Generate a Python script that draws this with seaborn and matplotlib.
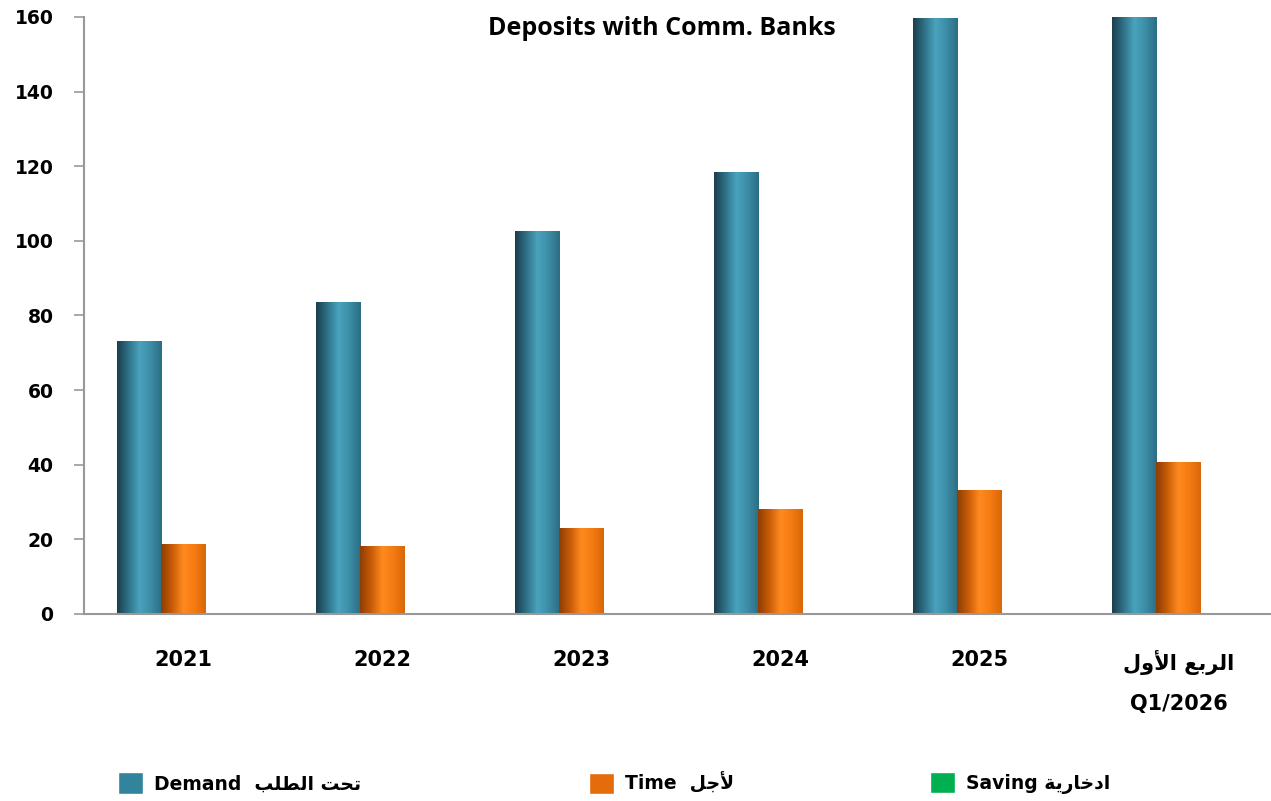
import numpy as np
import pandas as pd
import matplotlib
matplotlib.use("Agg")
import matplotlib.pyplot as plt
import seaborn as sns
from matplotlib.colors import LinearSegmentedColormap
from matplotlib.patches import Patch

# Arabic strings are written in presentation forms, visual (left-to-right) order
AR_DEMAND = "\uFE90\uFEE0\uFEC4\uFEDF\uFE8D \uFE96\uFEA4\uFE97"      # تحت الطلب
AR_TIME = "\uFEDE\uFE9F\uFEF7"                                        # لأجل
AR_SAVING = "\uFE94\uFEF3\uFEAD\uFE8E\uFEA7\uFEA9\uFE8D"              # ادخارية
AR_Q1 = "\uFEDD\uFEED\uFEF7\uFE8D \uFECA\uFE91\uFEAE\uFEDF\uFE8D"     # الربع الأول

periods = ["2021", "2022", "2023", "2024", "2025", AR_Q1 + "\nQ1/2026"]
demand = [72.9, 83.4, 102.4, 118.2, 159.5, 160.0]
time_dep = [18.5, 18.0, 23.0, 28.1, 33.2, 40.5]
saving = [0.2, 0.2, 0.1, 0.1, 0.1, 0.1]
series = ["Demand", "Time", "Saving"]
y_ticks = [0, 20, 40, 60, 80, 100, 120, 140, 160]

colors = {"Demand": "#31849B", "Time": "#E46C0A", "Saving": "#00B050"}
ramps = {
    "Demand": ["#1B3F4D", "#2E7187", "#4AA3BD", "#3C8DA6", "#2C6E84"],
    "Time": ["#8E3F04", "#C95C08", "#FF8A20", "#F57A12", "#D86808"],
    "Saving": ["#B8C4CC", "#C8D2D8", "#D8E0E4", "#C8D2D8", "#B8C4CC"],
}

df = pd.DataFrame({
    "period": np.repeat(periods, 3),
    "series": series * len(periods),
    "value": np.ravel(np.column_stack([demand, time_dep, saving])),
})

sns.set_style("white")
plt.rcParams["font.family"] = ["DejaVu Sans"]
plt.rcParams["text.color"] = "black"
plt.rcParams["xtick.labelcolor"] = "black"
plt.rcParams["ytick.labelcolor"] = "black"

fig = plt.figure(figsize=(12.71, 8.01), dpi=100)
ax = fig.add_axes([0.0661, 0.2335, 0.9394, 0.7453])

sns.barplot(data=df, x="period", y="value", hue="series", hue_order=series,
            palette=colors, width=0.67, gap=0, saturation=1, legend=False,
            edgecolor="none", ax=ax)

# cylinder-like shading over each bar
for i, s in enumerate(series):
    cmap = LinearSegmentedColormap.from_list(s, ramps[s])
    grad = np.linspace(0, 1, 64).reshape(1, -1)
    for bar in ax.containers[i]:
        h = bar.get_height()
        if h <= 0:
            continue
        x0 = bar.get_x()
        w = bar.get_width()
        ax.imshow(grad, cmap=cmap, aspect="auto", extent=[x0, x0 + w, 0, min(h, 160)],
                  zorder=bar.get_zorder() + 0.1, interpolation="bicubic")
ax.set_ylim(0, 160)
ax.set_xlim(-0.5, len(periods) - 0.5)

ax.set_yticks(y_ticks)
ax.set_xticks(np.arange(len(periods)) - 0.5, minor=True)
ax.tick_params(axis="x", which="minor", length=9, width=1.2, color="#999999", direction="out")
ax.tick_params(axis="x", which="major", length=0, pad=26, labelsize=15)
ax.tick_params(axis="y", length=7, width=1.2, color="#999999", pad=15, labelsize=13.5, left=True)
for lab in ax.get_xticklabels() + ax.get_yticklabels():
    lab.set_fontweight("bold")
for lab in ax.get_xticklabels():
    lab.set_linespacing(2.2)
    lab.set_verticalalignment("top")

sns.despine(ax=ax, top=True, right=True)
for sp in ["left", "bottom"]:
    ax.spines[sp].set_color("#999999")
    ax.spines[sp].set_linewidth(1.5)
ax.set_xlabel("")
ax.set_ylabel("")

fig.text(0.521, 0.965, "Deposits with Comm. Banks", ha="center", va="center",
         fontsize=18, fontweight="bold", family="Open Sans")

labels = ["Demand  " + AR_DEMAND, "Time  " + AR_TIME, "Saving " + AR_SAVING]
xpos = [0.0795, 0.450, 0.7183]
for s, lab, x in zip(series, labels, xpos):
    fig.legend(handles=[Patch(facecolor=colors[s])], labels=[lab],
               loc="center left", bbox_to_anchor=(x, 0.0225), frameon=False,
               handlelength=1.35, handleheight=1.35, handletextpad=0.6,
               prop={"weight": "bold", "size": 13.5})

fig.savefig("out.png", dpi=100)
